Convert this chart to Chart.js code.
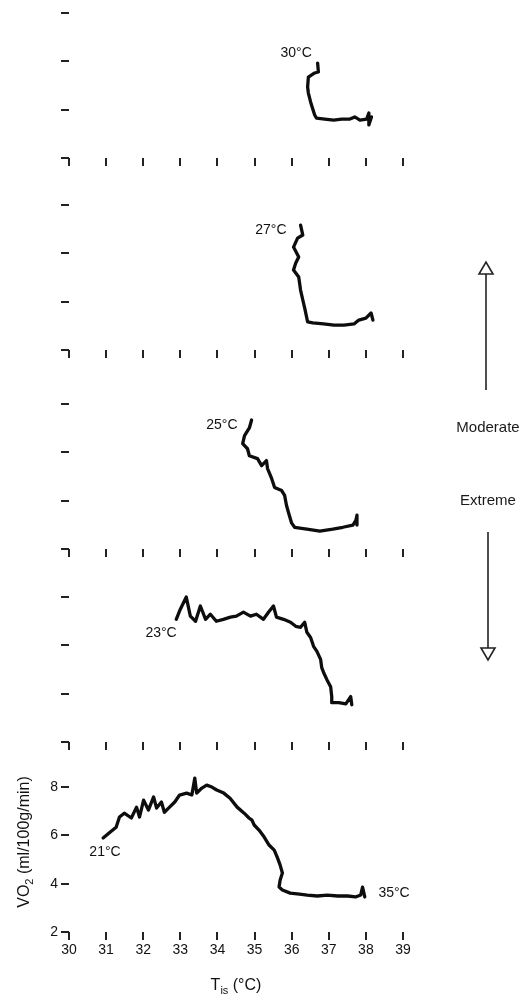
<!DOCTYPE html>
<html>
<head>
<meta charset="utf-8">
<script src="https://cdn.jsdelivr.net/npm/chart.js@4.4.0/dist/chart.umd.min.js"></script>
<style>
  body { margin: 0; background: #fff; }
  #page { position: relative; width: 528px; height: 995px; overflow: hidden; background: #fff; }
  #page canvas { position: absolute; left: 0; }
  #notes { position: absolute; left: 0; top: 0; }
</style>
</head>
<body>
<div id="page">
  <canvas id="p0"></canvas>
  <canvas id="p1"></canvas>
  <canvas id="p2"></canvas>
  <canvas id="p3"></canvas>
  <canvas id="p4"></canvas>
  <svg id="notes" width="528" height="995">
    <line x1="486" y1="273" x2="486" y2="390" stroke="#222" stroke-width="1.6"/>
    <polygon points="479,274 493,274 486,262" fill="#fff" stroke="#222" stroke-width="1.6"/>
    <text x="488" y="432" text-anchor="middle" font-family="Liberation Sans, Arial, sans-serif" font-size="15" fill="#1a1a1a">Moderate</text>
    <text x="488" y="505" text-anchor="middle" font-family="Liberation Sans, Arial, sans-serif" font-size="15" fill="#1a1a1a">Extreme</text>
    <line x1="488" y1="532" x2="488" y2="649" stroke="#222" stroke-width="1.6"/>
    <polygon points="481,648 495,648 488,660" fill="#fff" stroke="#222" stroke-width="1.6"/>
  </svg>
</div>
<script>
// axis ticks
const xTicks = [30, 31, 32, 33, 34, 35, 36, 37, 38, 39];
const yTicks = [2, 4, 6, 8];

// chamber temperature labels (one per panel, top to bottom)
const chamberLabels = ['30°C', '27°C', '25°C', '23°C', '21°C'];
const chamberLabelX = [36.12, 35.44, 34.12, 32.48, 30.97];
const chamberLabelY = [6.35, 6.97, 7.13, 6.51, 5.31];
const endLabel = '35°C';
const endLabelX = 38.76;
const endLabelY = 3.61;

// VO2 traces vs. Tis
const t30x = [36.70, 36.72, 36.62, 36.45, 36.43, 36.45, 36.51, 36.56, 36.62, 36.67, 36.89, 37.13, 37.35, 37.57, 37.70, 37.84, 38.02, 38.08, 38.08, 38.15];
const t30y = [5.93, 5.56, 5.52, 5.35, 4.94, 4.69, 4.32, 4.07, 3.78, 3.65, 3.61, 3.57, 3.61, 3.61, 3.70, 3.57, 3.61, 3.86, 3.37, 3.70];

const t27x = [36.24, 36.30, 36.16, 36.05, 36.19, 36.11, 36.05, 36.19, 36.24, 36.30, 36.35, 36.38, 36.43, 36.57, 36.86, 37.14, 37.41, 37.68, 37.81, 38.00, 38.14, 38.19];
const t27y = [7.17, 6.76, 6.63, 6.26, 5.85, 5.60, 5.31, 5.02, 4.48, 4.07, 3.74, 3.53, 3.16, 3.12, 3.08, 3.03, 3.03, 3.08, 3.24, 3.32, 3.53, 3.24];

const t25x = [34.92, 34.86, 34.73, 34.68, 34.81, 34.86, 35.08, 35.19, 35.32, 35.35, 35.46, 35.54, 35.73, 35.81, 35.86, 35.92, 36.00, 36.08, 36.41, 36.76, 37.11, 37.38, 37.65, 37.73, 37.76, 37.76];
const t25y = [7.34, 7.01, 6.69, 6.36, 6.15, 5.86, 5.74, 5.45, 5.66, 5.33, 4.92, 4.55, 4.42, 4.22, 3.81, 3.48, 3.07, 2.90, 2.82, 2.74, 2.82, 2.90, 2.99, 3.19, 3.40, 2.99];

const t23x = [32.89, 33.00, 33.16, 33.27, 33.41, 33.54, 33.68, 33.81, 33.97, 34.16, 34.35, 34.51, 34.70, 34.89, 35.05, 35.24, 35.38, 35.51, 35.59, 35.78, 35.97, 36.11, 36.24, 36.35, 36.41, 36.51, 36.59, 36.68, 36.78, 36.81, 36.86, 36.95, 37.05, 37.08, 37.08, 37.27, 37.46, 37.59, 37.62];
const t23y = [7.08, 7.50, 8.00, 7.21, 7.00, 7.63, 7.08, 7.29, 7.00, 7.08, 7.17, 7.21, 7.38, 7.21, 7.29, 7.08, 7.38, 7.63, 7.17, 7.08, 6.96, 6.79, 6.75, 6.96, 6.54, 6.33, 5.96, 5.75, 5.42, 5.08, 4.88, 4.58, 4.29, 3.88, 3.63, 3.63, 3.58, 3.88, 3.54];

const t21x = [30.92, 31.08, 31.27, 31.36, 31.49, 31.68, 31.82, 31.90, 32.01, 32.14, 32.28, 32.36, 32.49, 32.57, 32.71, 32.85, 32.98, 33.17, 33.31, 33.39, 33.44, 33.58, 33.71, 33.85, 33.98, 34.17, 34.34, 34.53, 34.72, 34.85, 34.93, 34.99, 35.12, 35.26, 35.39, 35.53, 35.61, 35.69, 35.75, 35.69, 35.66, 35.75, 35.96, 36.21, 36.42, 36.69, 36.96, 37.24, 37.51, 37.72, 37.86, 37.91, 37.97];
const t21y = [5.89, 6.10, 6.34, 6.76, 6.92, 6.72, 7.17, 6.76, 7.46, 7.05, 7.59, 7.13, 7.38, 6.96, 7.17, 7.38, 7.67, 7.75, 7.67, 8.37, 7.75, 7.96, 8.08, 8.00, 7.88, 7.75, 7.54, 7.17, 6.92, 6.72, 6.63, 6.43, 6.22, 5.93, 5.60, 5.39, 5.10, 4.77, 4.44, 4.15, 3.86, 3.74, 3.61, 3.57, 3.53, 3.49, 3.53, 3.49, 3.49, 3.45, 3.53, 3.86, 3.45];

const traceX = [t30x, t27x, t25x, t23x, t21x];
const traceY = [t30y, t27y, t25y, t23y, t21y];

const xTitle = ['T', 'is', ' (°C)'];
const yTitle = ['VO', '2', ' (ml/100g/min)'];

// layout of the five stacked panels (pixels)
const AREA_H = 157;
const panelTop = [0, 192, 391, 584, 740];
const panelPad = [1, 1, 1, 1, 35];
const panelH = [170, 170, 170, 170, 255];
const FONT = '"Liberation Sans", Arial, Helvetica, sans-serif';
const INK = '#111';

const tempLabels = {
  id: 'tempLabels',
  afterDatasetsDraw(chart, args, opts) {
    const ctx = chart.ctx;
    const xs = chart.scales.x, ys = chart.scales.y;
    ctx.save();
    ctx.font = '14px ' + FONT;
    ctx.fillStyle = INK;
    ctx.textAlign = 'center';
    ctx.textBaseline = 'middle';
    opts.items.forEach(it => {
      ctx.fillText(it.text, xs.getPixelForValue(it.x), ys.getPixelForValue(it.y));
    });
    ctx.restore();
  }
};

// draws text with a subscript part: [main, sub, rest]
function drawSubText(ctx, parts, x, y) {
  const big = '16px ' + FONT, small = '11px ' + FONT;
  ctx.font = big; const w0 = ctx.measureText(parts[0]).width;
  ctx.font = small; const w1 = ctx.measureText(parts[1]).width;
  ctx.font = big; const w2 = ctx.measureText(parts[2]).width;
  let cx = x - (w0 + w1 + w2) / 2;
  ctx.font = big; ctx.fillText(parts[0], cx, y); cx += w0;
  ctx.font = small; ctx.fillText(parts[1], cx, y + 4); cx += w1;
  ctx.font = big; ctx.fillText(parts[2], cx, y);
}

const axisTitles = {
  id: 'axisTitles',
  afterDraw(chart, args, opts) {
    if (!opts.show) return;
    const ctx = chart.ctx, a = chart.chartArea;
    ctx.save();
    ctx.fillStyle = INK;
    ctx.textAlign = 'left';
    ctx.textBaseline = 'alphabetic';
    drawSubText(ctx, xTitle, (a.left + a.right) / 2, a.bottom + 58);
    ctx.translate(29, a.top + 67);
    ctx.rotate(-Math.PI / 2);
    drawSubText(ctx, yTitle, 0, 0);
    ctx.restore();
  }
};

function makePanel(i) {
  const bottom = i === 4;
  const cv = document.getElementById('p' + i);
  cv.width = 528; cv.height = panelH[i];
  cv.style.top = panelTop[i] + 'px';
  cv.style.width = '528px'; cv.style.height = panelH[i] + 'px';

  const items = [{ text: chamberLabels[i], x: chamberLabelX[i], y: chamberLabelY[i] }];
  if (bottom) items.push({ text: endLabel, x: endLabelX, y: endLabelY });

  const tickGrid = { drawOnChartArea: false, drawTicks: true, tickLength: 8, lineWidth: 2, color: '#222' };

  return new Chart(cv.getContext('2d'), {
    type: 'line',
    data: {
      datasets: [{
        data: traceX[i].map((x, k) => ({ x: x, y: traceY[i][k] })),
        borderColor: '#0d0d0d',
        borderWidth: 3.3,
        borderJoinStyle: 'round',
        borderCapStyle: 'round',
        pointRadius: 0,
        tension: 0,
        fill: false
      }]
    },
    options: {
      responsive: false,
      animation: false,
      devicePixelRatio: 1,
      layout: { padding: { top: panelPad[i], left: 0, right: 125, bottom: 0 } },
      plugins: {
        legend: { display: false },
        tooltip: { enabled: false },
        tempLabels: { items: items },
        axisTitles: { show: bottom }
      },
      scales: {
        x: {
          type: 'linear', min: 30, max: 39,
          afterBuildTicks: s => { s.ticks = xTicks.map(v => ({ value: v })); },
          afterFit: s => { s.height = panelH[i] - panelPad[i] - AREA_H; },
          grid: tickGrid,
          border: { display: false },
          ticks: { display: bottom, color: INK, padding: 2, maxRotation: 0, font: { family: FONT, size: 14 } }
        },
        y: {
          type: 'linear', min: 2, max: 8.5,
          afterBuildTicks: s => { s.ticks = yTicks.map(v => ({ value: v })); },
          afterFit: s => { s.width = 69; },
          grid: tickGrid,
          border: { display: false },
          ticks: { display: bottom, color: INK, padding: 3, font: { family: FONT, size: 14 } }
        }
      }
    },
    plugins: [tempLabels, axisTitles]
  });
}

for (let i = 0; i < 5; i++) makePanel(i);
</script>
</body>
</html>
